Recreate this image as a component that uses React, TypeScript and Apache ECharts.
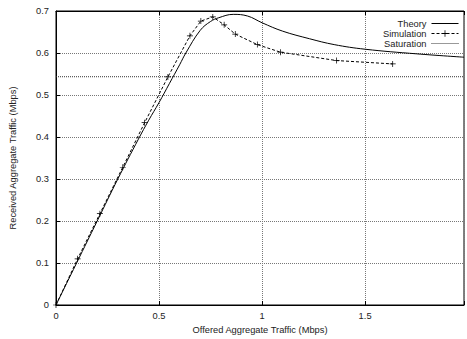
import React, { useEffect, useRef } from "react";
import * as echarts from "echarts";

const xTicks = [0, 0.5, 1, 1.5];
const yTicks = [0, 0.1, 0.2, 0.3, 0.4, 0.5, 0.6, 0.7];
const theoryX = [0, 0.1, 0.2, 0.3, 0.4, 0.45, 0.5, 0.55, 0.6, 0.63, 0.7, 0.75, 0.79, 0.86, 0.93, 1.0, 1.1, 1.23, 1.35, 1.5, 1.75, 1.98];
const theoryY = [0, 0.1, 0.2, 0.3, 0.395, 0.44, 0.482, 0.527, 0.572, 0.6, 0.654, 0.675, 0.684, 0.692, 0.688, 0.672, 0.652, 0.634, 0.62, 0.609, 0.598, 0.59];
const simX = [0, 0.105, 0.213, 0.324, 0.43, 0.543, 0.65, 0.703, 0.761, 0.816, 0.87, 0.977, 1.089, 1.362, 1.634];
const simY = [0, 0.11, 0.2175, 0.328, 0.434, 0.543, 0.641, 0.676, 0.686, 0.667, 0.645, 0.62, 0.602, 0.582, 0.574];
const saturation = 0.5435;
const xMax = 1.98;

const FONT = "'Liberation Sans', Arial, Helvetica, sans-serif";
const plus = "path://M4.4,0H5.6V4.4H10V5.6H5.6V10H4.4V5.6H0V4.4H4.4Z";

export default function App() {
  const ref = useRef<HTMLDivElement>(null);
  useEffect(() => {
    if (!ref.current) return;
    const chart = echarts.init(ref.current, null, { renderer: "svg" });
    const fmtX = (v: number) => (xTicks.some((t) => Math.abs(t - v) < 1e-6) ? String(v) : "");
    const grid = { left: 55, top: 11, right: 1, bottom: 32 };
    chart.setOption({
      animation: false,
      backgroundColor: "#fff",
      grid: { ...grid, show: true, borderColor: "#000", borderWidth: 1 },
      legend: {
        orient: "vertical",
        right: 3,
        top: 14,
        align: "right",
        itemWidth: 27,
        itemHeight: 8,
        itemGap: 1,
        textStyle: { fontFamily: FONT, fontSize: 9.3, color: "#222", lineHeight: 8 },
        data: [
          { name: "Theory", lineStyle: { width: 1, type: "solid", color: "#000" }, itemStyle: { opacity: 0 } },
          { name: "Simulation", lineStyle: { width: 1, type: [3, 2], color: "#000" } },
          { name: "Saturation", lineStyle: { width: 1, type: [1, 1], color: "#333" }, itemStyle: { opacity: 0 } },
        ],
      },
      xAxis: [
        {
          type: "value",
          min: 0,
          max: xMax,
          interval: 0.5,
          name: "Offered Aggregate Traffic (Mbps)",
          nameLocation: "middle",
          nameGap: 20,
          nameTextStyle: { fontFamily: FONT, fontSize: 9.3, color: "#222" },
          axisLine: { show: true, lineStyle: { color: "#000", width: 1 } },
          axisTick: { show: true, inside: true, length: 4, lineStyle: { color: "#000" } },
          axisLabel: { fontFamily: FONT, fontSize: 9.3, color: "#222", margin: 6, formatter: fmtX },
          splitLine: { show: true, lineStyle: { color: "#777", type: [1, 1], width: 1 } },
        },
        {
          type: "value",
          position: "top",
          min: 0,
          max: xMax,
          interval: 0.5,
          axisLine: { show: true, lineStyle: { color: "#000", width: 1 } },
          axisTick: { show: true, inside: true, length: 4, lineStyle: { color: "#000" } },
          axisLabel: { show: false },
          splitLine: { show: false },
        },
      ],
      yAxis: {
        type: "value",
        min: 0,
        max: 0.7,
        interval: 0.1,
        name: "Received Aggregate Traffic (Mbps)",
        nameLocation: "middle",
        nameGap: 39,
        nameTextStyle: { fontFamily: FONT, fontSize: 9.3, color: "#222" },
        axisLine: { show: true, lineStyle: { color: "#000", width: 1 } },
        axisTick: { show: true, inside: true, length: 4, lineStyle: { color: "#000" } },
        axisLabel: {
          fontFamily: FONT,
          fontSize: 9.3,
          color: "#222",
          margin: 7,
          formatter: (v: number) => {
            const t = yTicks.find((y) => Math.abs(y - v) < 1e-6);
            return t === undefined ? "" : String(t);
          },
        },
        splitLine: { show: true, lineStyle: { color: "#777", type: [1, 1], width: 1 } },
      },
      series: [
        {
          name: "Theory",
          type: "line",
          data: theoryX.map((x, i) => [x, theoryY[i]]),
          smooth: 0.4,
          showSymbol: false,
          symbol: "none",
          lineStyle: { color: "#000", width: 1 },
          itemStyle: { color: "#000" },
        },
        {
          name: "Simulation",
          type: "line",
          data: simX.map((x, i) => [x, simY[i]]),
          symbol: plus,
          symbolSize: 6,
          lineStyle: { color: "#000", width: 1, type: [3, 2] },
          itemStyle: { color: "#000" },
        },
        {
          name: "Saturation",
          type: "line",
          data: [
            [0, saturation],
            [xMax, saturation],
          ],
          symbol: "none",
          lineStyle: { color: "#333", width: 1, type: [1, 1] },
          itemStyle: { color: "#333" },
        },
      ],
    });
    return () => chart.dispose();
  }, []);
  return <div ref={ref} style={{ width: 467, height: 339, position: "absolute", left: 0, top: 0 }} />;
}
